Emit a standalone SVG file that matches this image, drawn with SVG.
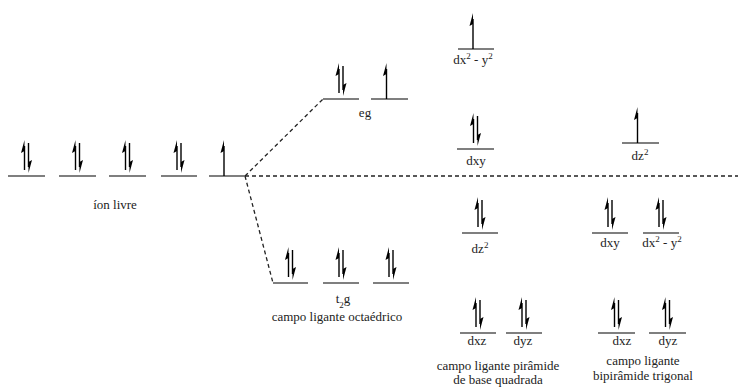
<svg xmlns="http://www.w3.org/2000/svg" xmlns:xlink="http://www.w3.org/1999/xlink" width="738" height="388" viewBox="0 0 738 388">
<style>
.lv{stroke:#555;stroke-width:1.6;fill:none}
.ar{stroke:#000;stroke-width:1.4;fill:none}
.hd{fill:#000;stroke:none}
.ds{stroke:#222;stroke-width:1.3;stroke-dasharray:4 3;fill:none}
.t{font-family:"Liberation Serif","Times New Roman",Times,Tinos,"Nimbus Roman","Noto Serif","DejaVu Serif",FreeSerif,serif;font-size:13px;fill:#222;text-anchor:middle}
.sup{font-size:9px}
</style>
<defs>
<g id="pair">
<line class="ar" x1="-2" y1="-6" x2="-2" y2="-30"/>
<polygon class="hd" points="-2,-36 -5.5,-23 -2,-25"/>
<line class="ar" x1="2" y1="-33" x2="2" y2="-9"/>
<polygon class="hd" points="2,-3 5.5,-16 2,-14"/>
</g>
<g id="single">
<line class="ar" x1="-3" y1="0" x2="-3" y2="-30"/>
<polygon class="hd" points="-3,-36 -6.5,-23 -3,-25"/>
</g>
</defs>
<g id="connectors">
<line class="ds" x1="245" y1="176" x2="323" y2="99"/>
<line class="ds" x1="245" y1="176" x2="273" y2="283"/>
<line class="ds" x1="245" y1="176" x2="738" y2="176"/>
</g>
<g id="ion-livre">
<line class="lv" x1="8" y1="176" x2="45" y2="176"/>
<use xlink:href="#pair" x="26.5" y="176"/>
<line class="lv" x1="59" y1="176" x2="96" y2="176"/>
<use xlink:href="#pair" x="77.5" y="176"/>
<line class="lv" x1="109" y1="176" x2="146" y2="176"/>
<use xlink:href="#pair" x="127.5" y="176"/>
<line class="lv" x1="161" y1="176" x2="197" y2="176"/>
<use xlink:href="#pair" x="179" y="176"/>
<line class="lv" x1="209" y1="176" x2="245" y2="176"/>
<use xlink:href="#single" x="227" y="176"/>
<text class="t" x="115" y="209">íon livre</text>
</g>
<g id="eg">
<line class="lv" x1="323" y1="99" x2="359" y2="99"/>
<use xlink:href="#pair" x="341" y="99"/>
<line class="lv" x1="371" y1="99" x2="408" y2="99"/>
<use xlink:href="#single" x="389.5" y="99"/>
<text class="t" x="365" y="117">eg</text>
</g>
<g id="t2g">
<line class="lv" x1="273" y1="283" x2="308" y2="283"/>
<use xlink:href="#pair" x="290.5" y="283"/>
<line class="lv" x1="323" y1="283" x2="359" y2="283"/>
<use xlink:href="#pair" x="341" y="283"/>
<line class="lv" x1="373" y1="283" x2="409" y2="283"/>
<use xlink:href="#pair" x="391" y="283"/>
<text class="t" x="343" y="303">t<tspan class="sup" baseline-shift="sub">2</tspan>g</text>
<text class="t" x="337" y="321">campo ligante octaédrico</text>
</g>
<g id="piramide">
<line class="lv" x1="458" y1="49" x2="494" y2="49"/>
<use xlink:href="#single" x="476" y="49"/>
<text class="t" x="473" y="64">dx<tspan class="sup" baseline-shift="super">2</tspan> - y<tspan class="sup" baseline-shift="super">2</tspan></text>
<line class="lv" x1="457" y1="149" x2="494" y2="149"/>
<use xlink:href="#pair" x="475.5" y="149"/>
<text class="t" x="476" y="165">dxy</text>
<line class="lv" x1="462" y1="233" x2="498" y2="233"/>
<use xlink:href="#pair" x="480" y="233"/>
<text class="t" x="480" y="253">dz<tspan class="sup" baseline-shift="super">2</tspan></text>
<line class="lv" x1="460" y1="333" x2="496" y2="333"/>
<use xlink:href="#pair" x="478" y="333"/>
<text class="t" x="477" y="345">dxz</text>
<line class="lv" x1="506" y1="333" x2="542" y2="333"/>
<use xlink:href="#pair" x="524" y="333"/>
<text class="t" x="523" y="345">dyz</text>
<text class="t" x="498" y="370">campo ligante pirâmide</text>
<text class="t" x="498" y="384">de base quadrada</text>
</g>
<g id="bipiramide">
<line class="lv" x1="622" y1="143" x2="659" y2="143"/>
<use xlink:href="#single" x="640.5" y="143"/>
<text class="t" x="640" y="160">dz<tspan class="sup" baseline-shift="super">2</tspan></text>
<line class="lv" x1="592" y1="233" x2="628" y2="233"/>
<use xlink:href="#pair" x="610" y="233"/>
<text class="t" x="610" y="247">dxy</text>
<line class="lv" x1="643" y1="233" x2="679" y2="233"/>
<use xlink:href="#pair" x="661" y="233"/>
<text class="t" x="662" y="247">dx<tspan class="sup" baseline-shift="super">2</tspan> - y<tspan class="sup" baseline-shift="super">2</tspan></text>
<line class="lv" x1="598" y1="333" x2="635" y2="333"/>
<use xlink:href="#pair" x="616.5" y="333"/>
<text class="t" x="622" y="345">dxz</text>
<line class="lv" x1="649" y1="333" x2="686" y2="333"/>
<use xlink:href="#pair" x="667.5" y="333"/>
<text class="t" x="668" y="345">dyz</text>
<text class="t" x="643" y="365">campo ligante</text>
<text class="t" x="643" y="380">bipirâmide trigonal</text>
</g>
</svg>
